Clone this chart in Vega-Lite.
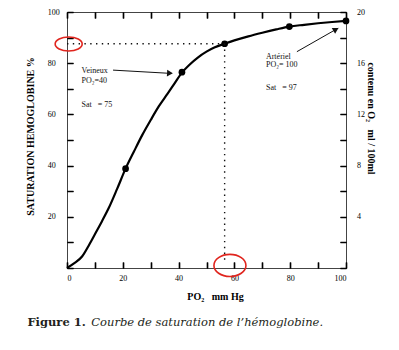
{
  "$schema": "https://vega.github.io/schema/vega-lite/v6.json",
  "width": 279,
  "height": 256,
  "autosize": "none",
  "padding": {"left": 67, "top": 12, "right": 53, "bottom": 82},
  "background": "white",
  "config": {
    "view": {"stroke": "#444", "strokeWidth": 1},
    "font": "Liberation Serif"
  },
  "datasets": {
    "curve": [
      {"po2": 0, "sat": 0}, {"po2": 2.5, "sat": 1.8}, {"po2": 5.4, "sat": 4.5}, {"po2": 8, "sat": 9.2},
      {"po2": 10, "sat": 13.2}, {"po2": 12.5, "sat": 18.2}, {"po2": 15, "sat": 23.5}, {"po2": 18, "sat": 31},
      {"po2": 21, "sat": 38.8}, {"po2": 24, "sat": 45.5}, {"po2": 27, "sat": 52}, {"po2": 30, "sat": 57.8},
      {"po2": 33, "sat": 63.3}, {"po2": 36, "sat": 68}, {"po2": 38.5, "sat": 72}, {"po2": 41.2, "sat": 76.3},
      {"po2": 44, "sat": 79.5}, {"po2": 47, "sat": 82.3}, {"po2": 50, "sat": 84.5}, {"po2": 53, "sat": 86.2},
      {"po2": 56.5, "sat": 87.6}, {"po2": 60, "sat": 88.9}, {"po2": 65, "sat": 90.5}, {"po2": 70, "sat": 91.9},
      {"po2": 75, "sat": 93.2}, {"po2": 79.7, "sat": 94.3}, {"po2": 85, "sat": 95}, {"po2": 90, "sat": 95.6},
      {"po2": 95, "sat": 96.1}, {"po2": 100, "sat": 96.5}
    ],
    "pts": [
      {"po2": 21, "sat": 38.8}, {"po2": 41.2, "sat": 76.5}, {"po2": 56.5, "sat": 87.6},
      {"po2": 79.7, "sat": 94.3}, {"po2": 100, "sat": 96.5}
    ],
    "guides": [
      {"x1": 0, "y1": 87.6, "x2": 56.5, "y2": 87.6},
      {"x1": 56.5, "y1": 87.6, "x2": 56.5, "y2": 2}
    ],
    "arrows": [
      {"name": "veineux", "x1": 16.5, "y1": 77.3, "x2": 37.5, "y2": 76.0},
      {"name": "arteriel", "x1": 82.4, "y1": 84.5, "x2": 97.2, "y2": 93.7}
    ],
    "heads": [
      {"name": "veineux", "x": 36.9, "y": 76.1},
      {"name": "arteriel", "x": 96.4, "y": 93.2}
    ],
    "notes": [
      {"x": 5.2, "y": 76.9, "t": "Veineux"},
      {"x": 5.2, "y": 73.2, "t": "PO₂=40"},
      {"x": 5.2, "y": 63.8, "t": "Sat\u00a0\u00a0\u00a0= 75"},
      {"x": 71.3, "y": 82.5, "t": "Artériel"},
      {"x": 71.3, "y": 79.2, "t": "PO₂= 100"},
      {"x": 71.3, "y": 70.5, "t": "Sat\u00a0\u00a0\u00a0= 97"}
    ],
    "circles": [
      {"name": "a", "x": 0.6, "y": 87.5},
      {"name": "b", "x": 58.4, "y": 1}
    ],
    "caption": [
      {"part": "num", "x": -14.2, "y": -21.6, "t": "Figure 1."},
      {"part": "text", "x": 8.7, "y": -21.6, "t": "Courbe de saturation de l’hémoglobine."}
    ]
  },
  "resolve": {"scale": {"x": "independent", "y": "independent"}, "axis": {"x": "independent", "y": "independent"}},
  "layer": [
    {
      "data": {"name": "curve"},
      "mark": {"type": "line", "color": "black", "strokeWidth": 2.2, "interpolate": "monotone"},
      "encoding": {
        "x": {"field": "po2", "type": "quantitative", "scale": {"domain": [0, 100], "nice": false},
          "axis": {"orient": "bottom", "domain": false, "offset": -6, "tickSize": 6, "tickColor": "black", "tickWidth": 1.5,
            "grid": true, "gridColor": "black", "gridWidth": 1.2, "gridDash": [6, 244, 6, 0],
            "values": [0,10,20,30,40,50,60,70,80,90,100],
            "labelExpr": "datum.value % 20 === 0 ? datum.label : ''", "labelPadding": 6, "labelFontSize": 8,
            "title": "PO₂\u00a0\u00a0\u00a0mm Hg", "titleFontWeight": "bold",
            "titleFontSize": 10, "titleX": 148, "titleY": 34.5, "titleBaseline": "middle"}},
        "y": {"field": "sat", "type": "quantitative", "scale": {"domain": [0, 100], "nice": false},
          "axis": {"orient": "left", "domain": false, "offset": -6, "tickSize": 6, "tickColor": "black", "tickWidth": 1.5,
            "grid": true, "gridColor": "black", "gridWidth": 1.2, "gridDash": [6, 267, 6, 0],
            "values": [0,10,20,30,40,50,60,70,80,90,100],
            "labelExpr": "datum.value % 20 === 0 && datum.value > 0 ? datum.label : ''",
            "labelAlign": "left", "labelPadding": 19.7, "labelBaseline": "middle", "labelFontSize": 8,
            "title": "SATURATION HEMOGLOBINE %", "titleFontWeight": "bold",
            "titleFontSize": 10, "titleAngle": -90,
            "titleX": -42.7, "titleY": 124, "titleBaseline": "middle", "titleAlign": "center"}}
      }
    },
    {
      "data": {"name": "pts"},
      "mark": {"type": "point", "filled": true, "color": "black", "size": 45, "opacity": 1},
      "encoding": {
        "x": {"field": "po2", "type": "quantitative", "scale": {"domain": [0, 100], "nice": false},
          "axis": {"orient": "top", "grid": false, "domain": false, "offset": -6, "tickSize": 6, "tickColor": "black", "tickWidth": 1.5,
            "values": [0,10,20,30,40,50,60,70,80,90,100], "labels": false, "title": null}},
        "y": {"field": "sat", "type": "quantitative", "scale": {"domain": [0, 100], "nice": false},
          "axis": {"orient": "right", "grid": false, "domain": false, "offset": -6, "tickSize": 6, "tickColor": "black", "tickWidth": 1.5,
            "values": [0,10,20,30,40,50,60,70,80,90,100],
            "labelExpr": "datum.value % 20 === 0 && datum.value > 0 ? format(datum.value / 5, 'd') : ''",
            "labelAlign": "left", "labelPadding": 10.5, "labelBaseline": "middle", "labelFontSize": 8,
            "title": "contenu en O₂\u00a0\u00a0\u00a0ml / 100ml", "titleFontWeight": "bold",
            "titleFontSize": 10, "titleAngle": 90,
            "titleX": 30.3, "titleY": 106, "titleBaseline": "middle", "titleAlign": "center"}}
      }
    },
    {
      "data": {"name": "guides"},
      "mark": {"type": "rule", "color": "#111", "strokeWidth": 1.4, "strokeDash": [1.4, 4.4]},
      "encoding": {
        "x": {"field": "x1", "type": "quantitative", "scale": {"domain": [0, 100], "nice": false}, "axis": null},
        "y": {"field": "y1", "type": "quantitative", "scale": {"domain": [0, 100], "nice": false}, "axis": null},
        "x2": {"field": "x2"},
        "y2": {"field": "y2"}
      }
    },
    {
      "data": {"name": "arrows"},
      "mark": {"type": "rule", "color": "#111", "strokeWidth": 1},
      "encoding": {
        "x": {"field": "x1", "type": "quantitative", "scale": {"domain": [0, 100], "nice": false}, "axis": null},
        "y": {"field": "y1", "type": "quantitative", "scale": {"domain": [0, 100], "nice": false}, "axis": null},
        "x2": {"field": "x2"},
        "y2": {"field": "y2"}
      }
    },
    {
      "data": {"name": "heads"},
      "transform": [{"filter": "datum.name === 'veineux'"}],
      "mark": {"type": "point", "shape": "triangle-right", "filled": true, "color": "#111", "size": 45, "angle": 3, "opacity": 1},
      "encoding": {
        "x": {"field": "x", "type": "quantitative", "scale": {"domain": [0, 100], "nice": false}, "axis": null},
        "y": {"field": "y", "type": "quantitative", "scale": {"domain": [0, 100], "nice": false}, "axis": null}
      }
    },
    {
      "data": {"name": "heads"},
      "transform": [{"filter": "datum.name === 'arteriel'"}],
      "mark": {"type": "point", "shape": "triangle-right", "filled": true, "color": "#111", "size": 45, "angle": -30, "opacity": 1},
      "encoding": {
        "x": {"field": "x", "type": "quantitative", "scale": {"domain": [0, 100], "nice": false}, "axis": null},
        "y": {"field": "y", "type": "quantitative", "scale": {"domain": [0, 100], "nice": false}, "axis": null}
      }
    },
    {
      "data": {"name": "notes"},
      "mark": {"type": "text", "align": "left", "baseline": "middle", "font": "Liberation Serif", "fontSize": 8, "color": "#111"},
      "encoding": {
        "x": {"field": "x", "type": "quantitative", "scale": {"domain": [0, 100], "nice": false}, "axis": null},
        "y": {"field": "y", "type": "quantitative", "scale": {"domain": [0, 100], "nice": false}, "axis": null},
        "text": {"field": "t"}
      }
    },
    {
      "data": {"name": "circles"},
      "transform": [{"filter": "datum.name === 'a'"}],
      "mark": {"type": "point", "shape": "M-1,0A1,0.52 0 1,0 1,0A1,0.52 0 1,0 -1,0Z", "size": 729, "filled": false, "stroke": "#e0251e", "strokeWidth": 1.6, "opacity": 1},
      "encoding": {
        "x": {"field": "x", "type": "quantitative", "scale": {"domain": [0, 100], "nice": false}, "axis": null},
        "y": {"field": "y", "type": "quantitative", "scale": {"domain": [0, 100], "nice": false}, "axis": null}
      }
    },
    {
      "data": {"name": "circles"},
      "transform": [{"filter": "datum.name === 'b'"}],
      "mark": {"type": "point", "shape": "M-1,0A1,0.69 0 1,0 1,0A1,0.69 0 1,0 -1,0Z", "size": 1024, "filled": false, "stroke": "#e0251e", "strokeWidth": 1.6, "opacity": 1},
      "encoding": {
        "x": {"field": "x", "type": "quantitative", "scale": {"domain": [0, 100], "nice": false}, "axis": null},
        "y": {"field": "y", "type": "quantitative", "scale": {"domain": [0, 100], "nice": false}, "axis": null}
      }
    },
    {
      "data": {"name": "caption"},
      "transform": [{"filter": "datum.part === 'num'"}],
      "mark": {"type": "text", "align": "left", "baseline": "middle", "font": "DejaVu Serif", "fontSize": 11.5, "fontWeight": "bold", "color": "#231f20"},
      "encoding": {
        "x": {"field": "x", "type": "quantitative", "scale": {"domain": [0, 100], "nice": false}, "axis": null},
        "y": {"field": "y", "type": "quantitative", "scale": {"domain": [0, 100], "nice": false}, "axis": null},
        "text": {"field": "t"}
      }
    },
    {
      "data": {"name": "caption"},
      "transform": [{"filter": "datum.part === 'text'"}],
      "mark": {"type": "text", "align": "left", "baseline": "middle", "font": "DejaVu Serif", "fontSize": 11.5, "fontStyle": "italic", "color": "#231f20"},
      "encoding": {
        "x": {"field": "x", "type": "quantitative", "scale": {"domain": [0, 100], "nice": false}, "axis": null},
        "y": {"field": "y", "type": "quantitative", "scale": {"domain": [0, 100], "nice": false}, "axis": null},
        "text": {"field": "t"}
      }
    }
  ]
}
